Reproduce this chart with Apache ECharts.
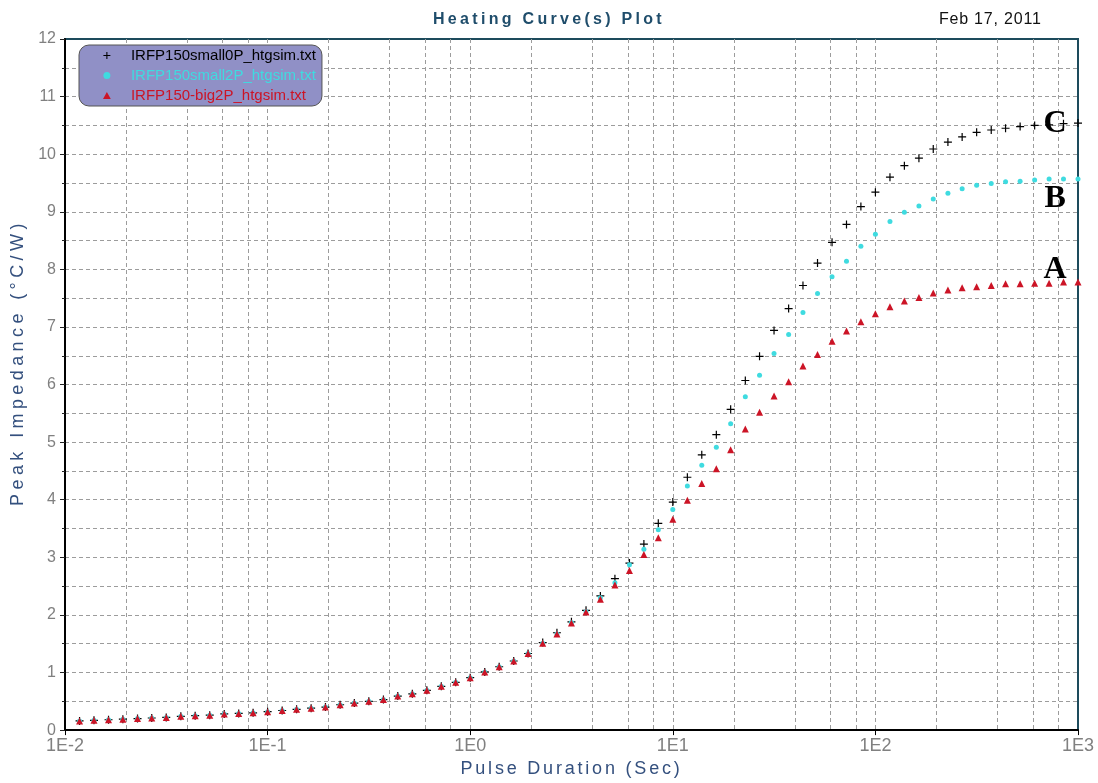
<!DOCTYPE html>
<html><head><meta charset="utf-8">
<script src="https://cdn.jsdelivr.net/npm/echarts@6/dist/echarts.min.js"></script>
<style>html,body{margin:0;padding:0;background:#fff}#c{width:1098px;height:783px}</style>
</head><body><div id="c"></div>
<script>
// Pulse durations (s), shared by all three curves
const durations = [
  0.0118,0.0139,0.0164,0.0193,0.0228,0.0268,0.0316,0.0373,0.0439,0.0518,0.0611,0.0720,0.0848,0.1,
  0.118,0.139,0.164,0.193,0.228,0.268,0.316,0.373,0.439,0.518,0.611,0.720,0.848,1,
  1.18,1.39,1.64,1.93,2.28,2.68,3.16,3.73,4.39,5.18,6.11,7.20,8.48,10,
  11.8,13.9,16.4,19.3,22.8,26.8,31.6,37.3,43.9,51.8,61.1,72.0,84.8,100,
  118,139,164,193,228,268,316,373,439,518,611,720,848,1000
];
const seriesNames = ['IRFP150small0P_htgsim.txt','IRFP150small2P_htgsim.txt','IRFP150-big2P_htgsim.txt'];
const curveTags = ['C','B','A'];
const small0P = [
  0.16,0.17,0.18,0.19,0.20,0.21,0.22,0.24,0.25,0.26,0.28,0.29,0.30,0.32,
  0.34,0.36,0.38,0.40,0.44,0.47,0.50,0.53,0.59,0.63,0.69,0.76,0.83,0.91,
  1.01,1.10,1.20,1.33,1.52,1.69,1.88,2.08,2.33,2.63,2.90,3.23,3.59,3.96,
  4.39,4.78,5.13,5.57,6.07,6.49,6.94,7.32,7.72,8.11,8.47,8.78,9.09,9.34,
  9.60,9.80,9.93,10.09,10.21,10.30,10.38,10.42,10.45,10.48,10.50,10.51,10.53,10.54
];
const small2P = [
  0.16,0.17,0.18,0.19,0.20,0.21,0.22,0.24,0.25,0.26,0.28,0.29,0.30,0.32,
  0.34,0.36,0.38,0.40,0.44,0.47,0.50,0.53,0.59,0.63,0.69,0.76,0.83,0.91,
  1.01,1.10,1.20,1.33,1.51,1.67,1.87,2.06,2.30,2.56,2.87,3.14,3.48,3.83,
  4.24,4.60,4.91,5.32,5.79,6.16,6.54,6.87,7.25,7.58,7.87,8.14,8.40,8.61,
  8.83,8.99,9.10,9.22,9.32,9.40,9.46,9.49,9.52,9.53,9.55,9.57,9.57,9.57
];
const big2P = [
  0.16,0.17,0.18,0.19,0.20,0.21,0.22,0.24,0.25,0.26,0.28,0.29,0.30,0.32,
  0.34,0.36,0.38,0.40,0.44,0.47,0.50,0.53,0.59,0.63,0.69,0.76,0.83,0.91,
  1.01,1.10,1.20,1.33,1.51,1.67,1.86,2.05,2.27,2.52,2.77,3.05,3.34,3.66,
  3.99,4.28,4.54,4.87,5.23,5.52,5.80,6.05,6.32,6.52,6.75,6.93,7.09,7.23,
  7.35,7.45,7.51,7.59,7.64,7.68,7.70,7.72,7.75,7.75,7.76,7.76,7.78,7.78
];
const xDecades = [0.01,0.1,1,10,100,1000];
const xDecadeLabels = ['1E-2','1E-1','1E0','1E1','1E2','1E3'];
const xGridValues = [
  0.02,0.04,0.06,0.08,0.1,0.2,0.4,0.6,0.8,1,2,4,6,8,10,20,40,60,80,100,200,400,600,800
];

// Letter spacing for the widely spaced headings of the original plot
const textSpacing = {
  'Heating Curve(s) Plot':'3.3px',
  'Pulse Duration (Sec)':'2.8px',
  'Peak Impedance (°C/W)':'4.4px',
  'Feb 17, 2011':'0.8px'
};
(function(){
  const proto = CanvasRenderingContext2D.prototype;
  const orig = proto.fillText;
  proto.fillText = function(t, x, y, w){
    const ls = textSpacing[t];
    if (ls && ('letterSpacing' in this)) {
      const f = this.font;
      this.save();
      this.letterSpacing = ls;
      this.font = f;
      const r = (w === undefined) ? orig.call(this, t, x, y) : orig.call(this, t, x, y, w);
      this.restore();
      this.letterSpacing = '0px';
      this.font = '10px sans-serif';
      this.font = f;
      return r;
    }
    return orig.apply(this, arguments);
  };
})();

const tagIndex = 67;
const colors = ['#000000','#3fdbe0','#cc1426'];
const symbols = [
  'path://M4.25,0 L5.75,0 L5.75,4.25 L10,4.25 L10,5.75 L5.75,5.75 L5.75,10 L4.25,10 L4.25,5.75 L0,5.75 L0,4.25 L4.25,4.25 Z',
  'circle',
  'path://M5,0 L10,9 L0,9 Z'
];
const symbolSizes = [8, 5, 7];
const tagOffsets = [[6,-1],[6,20],[6,-13]];
const allValues = [small0P, small2P, big2P];

const gridLine = {color:'#9c9c9c', width:1, type:[4,3]};
const sans = "'Liberation Sans', Arial, sans-serif";

const series = allValues.map((vals, s) => ({
  type:'scatter',
  name: seriesNames[s],
  symbol: symbols[s],
  symbolSize: symbolSizes[s],
  itemStyle:{color: colors[s], opacity:1},
  z: 3 + s,
  data: vals.map((v, i) => {
    const item = {value:[durations[i], v]};
    if (i === tagIndex) {
      item.label = {
        show:true, position:'inside', formatter: curveTags[s], offset: tagOffsets[s],
        fontFamily:"'Liberation Serif','Times New Roman',serif", fontWeight:'bold', fontSize:32, color:'#000'
      };
    }
    return item;
  })
}));

const chart = echarts.init(document.getElementById('c'), null, {renderer:'canvas'});
chart.setOption({
  animation:false,
  backgroundColor:'#ffffff',
  title:[
    {text:'Heating Curve(s) Plot', left:'center', top:12, padding:0,
     textStyle:{color:'#1f4d6b', fontSize:16, fontWeight:'bold', fontFamily:sans}},
    {text:'Feb 17, 2011', right:66, top:12, padding:0,
     textStyle:{color:'#111', fontSize:16, fontWeight:'normal', fontFamily:sans}}
  ],
  legend:{
    orient:'vertical', left:79, top:45,
    backgroundColor:'#9090c6', borderColor:'#555', borderWidth:1, borderRadius:10,
    padding:[3,6,3,24], itemGap:5, itemWidth:38, itemHeight:7,
    data: seriesNames.map((n, s) => ({name:n, textStyle:{color: colors[s]}})),
    textStyle:{fontSize:15, fontFamily:sans}
  },
  grid:{left:65, right:20, top:39, bottom:48, show:true, borderColor:'#1d4b5c', borderWidth:2, backgroundColor:'#fff'},
  xAxis:[
    {
      type:'log', logBase:10, min:0.01, max:1000, position:'bottom',
      name:'Pulse Duration (Sec)', nameLocation:'middle', nameGap:28,
      nameTextStyle:{color:'#34507e', fontSize:18, fontFamily:sans},
      axisLine:{show:true, onZero:false, lineStyle:{color:'#000', width:2}},
      axisTick:{show:true, length:5, customValues:xDecades, lineStyle:{color:'#000'}},
      axisLabel:{customValues:xDecades, color:'#808080', fontSize:18, fontFamily:sans, margin:7,
        formatter:(v)=>{const i = xDecades.findIndex(d=>Math.abs(d-v)/d<1e-6); return i>=0?xDecadeLabels[i]:'';}},
      splitLine:{show:false}
    },
    {
      type:'log', logBase:10, min:0.01, max:1000, position:'bottom',
      axisLine:{show:false}, axisLabel:{show:false},
      axisTick:{show:false, customValues:xGridValues},
      splitLine:{show:true, lineStyle:gridLine}
    }
  ],
  yAxis:{
    type:'value', min:0, max:12, interval:1,
    name:'Peak Impedance (°C/W)', nameLocation:'middle', nameGap:38,
    nameTextStyle:{color:'#34507e', fontSize:18, fontFamily:sans, padding:[0,0,0,44]},
    axisLine:{show:true, onZero:false, lineStyle:{color:'#000', width:2}},
    axisTick:{show:true, length:5, lineStyle:{color:'#222'}},
    minorTick:{show:true, splitNumber:2, length:3, lineStyle:{color:'#222'}},
    axisLabel:{color:'#808080', fontSize:16, fontFamily:sans, margin:9},
    splitLine:{show:true, showMinLine:false, showMaxLine:false, lineStyle:gridLine},
    minorSplitLine:{show:true, lineStyle:gridLine}
  },
  series: series
});
</script>
</body></html>
